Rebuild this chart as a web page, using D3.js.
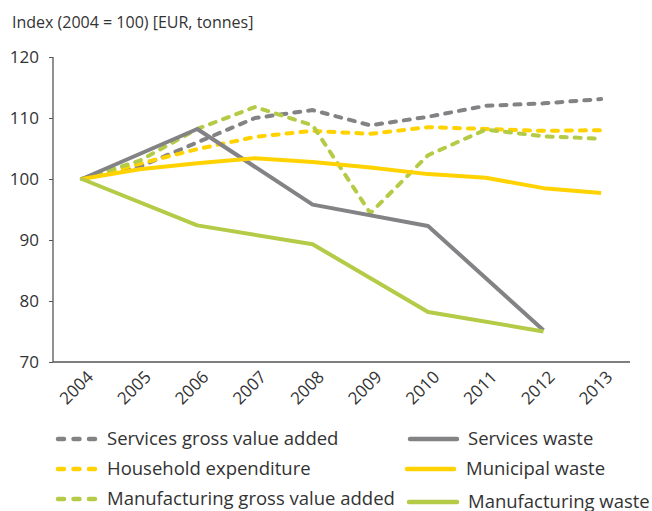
<!DOCTYPE html>
<html>
<head>
<meta charset="utf-8">
<script src="https://cdn.jsdelivr.net/npm/d3@7"></script>
<style>
  body { margin: 0; background: #fff; }
  text { font-family: "Open Sans", sans-serif; fill: #333; }
</style>
</head>
<body>
<svg width="652" height="511"></svg>
<script>
var years = ["2004","2005","2006","2007","2008","2009","2010","2011","2012","2013"];
var yTicks = [70, 80, 90, 100, 110, 120];

var servicesGVA      = [100, 102.0, 106.0, 110.0, 111.3, 108.8, 110.2, 112.0, 112.4, 113.1];
var householdExp     = [100, 102.5, 104.9, 106.9, 107.9, 107.4, 108.5, 108.2, 107.9, 108.0];
var manufacturingGVA = [100, 103.0, 108.2, 111.8, 108.8, 94.4, 103.9, 108.1, 107.0, 106.6];
var servicesWaste    = [100, null, 108.2, null, 95.8, null, 92.3, null, 75.2, null];
var municipalWaste   = [100, 101.6, 102.6, 103.4, 102.8, 101.9, 100.8, 100.2, 98.5, 97.7];
var manufacturingWaste = [100, null, 92.4, null, 89.3, null, 78.2, null, 75.0, null];

var gray = "#838386", yellow = "#ffd200", green = "#b3cb46";

var series = [
  {name: "Services gross value added", values: servicesGVA, color: gray, dashed: true},
  {name: "Household expenditure", values: householdExp, color: yellow, dashed: true},
  {name: "Manufacturing gross value added", values: manufacturingGVA, color: green, dashed: true},
  {name: "Services waste", values: servicesWaste, color: gray, dashed: false},
  {name: "Municipal waste", values: municipalWaste, color: yellow, dashed: false},
  {name: "Manufacturing waste", values: manufacturingWaste, color: green, dashed: false}
];

var svg = d3.select("svg");
var mLeft = 53, mRight = 630, mTop = 57, mBottom = 362;

var x = d3.scalePoint().domain(years).range([mLeft, mRight]).padding(0.5);
var y = d3.scaleLinear().domain([70, 120]).range([mBottom, mTop]);

svg.append("text")
  .attr("x", 12).attr("y", 28)
  .style("font-size", "16px")
  .text("Index (2004 = 100) [EUR, tonnes]");

// y axis
var yAxis = svg.append("g")
  .attr("transform", "translate(" + mLeft + ",0)")
  .call(d3.axisLeft(y).tickValues(yTicks).tickSize(4).tickPadding(10));
yAxis.select(".domain").attr("stroke", "#555").attr("stroke-width", 1.3).attr("d", "M0," + mTop + "V" + mBottom);
yAxis.selectAll(".tick line").attr("stroke", "#555");
yAxis.selectAll(".tick text").style("font-size", "17px").attr("fill", "#333");

// x axis
var xAxis = svg.append("g")
  .attr("transform", "translate(0," + mBottom + ")")
  .call(d3.axisBottom(x).tickSize(0).tickPadding(0));
xAxis.select(".domain").attr("stroke", "#555").attr("stroke-width", 1.3).attr("d", "M" + mLeft + ",0H" + mRight);
xAxis.selectAll(".tick text")
  .style("font-size", "17px")
  .attr("fill", "#333")
  .attr("text-anchor", "end")
  .attr("dy", null)
  .attr("transform", "translate(12,16) rotate(-45)");

var line = d3.line()
  .x(function(d){ return x(d.year); })
  .y(function(d){ return y(d.v); });

series.forEach(function(s){
  var pts = years.map(function(yr, i){ return {year: yr, v: s.values[i]}; })
    .filter(function(d){ return d.v != null; });
  svg.append("path")
    .datum(pts)
    .attr("fill", "none")
    .attr("stroke", s.color)
    .attr("stroke-width", 4)
    .attr("stroke-linecap", s.dashed ? "round" : "butt")
    .attr("stroke-linejoin", "round")
    .attr("stroke-dasharray", s.dashed ? "6,8" : null)
    .attr("d", line);
});

// legend
var legendPos = [
  {x1: 58, x2: 95, tx: 107, ty: 445},
  {x1: 58, x2: 95, tx: 107, ty: 475},
  {x1: 58, x2: 95, tx: 107, ty: 505},
  {x1: 410, x2: 457, tx: 468, ty: 445},
  {x1: 407, x2: 454, tx: 466, ty: 475},
  {x1: 409, x2: 457, tx: 468, ty: 508}
];
var lg = svg.append("g").selectAll("g").data(series).join("g");
lg.append("line")
  .attr("x1", function(d,i){ return legendPos[i].x1; })
  .attr("x2", function(d,i){ return legendPos[i].x2; })
  .attr("y1", function(d,i){ return legendPos[i].ty - 6; })
  .attr("y2", function(d,i){ return legendPos[i].ty - 6; })
  .attr("stroke", function(d){ return d.color; })
  .attr("stroke-width", 4.5)
  .attr("stroke-linecap", "round")
  .attr("stroke-dasharray", function(d){ return d.dashed ? "6,9.5" : null; });
lg.append("text")
  .attr("x", function(d,i){ return legendPos[i].tx; })
  .attr("y", function(d,i){ return legendPos[i].ty; })
  .style("font-size", "18.5px")
  .text(function(d){ return d.name; });
</script>
</body>
</html>
